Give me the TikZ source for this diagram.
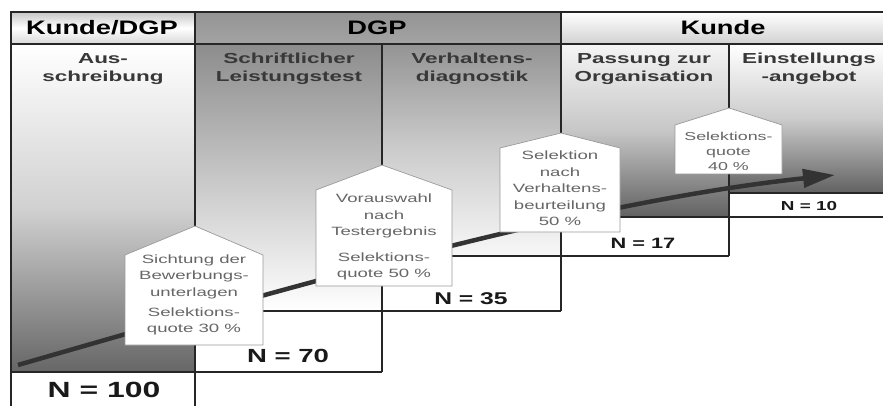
\documentclass[tikz,border=0pt]{standalone}
\usepackage{fontspec}
\setmainfont{Liberation Sans}
\newfontfamily\hdrfont[FakeStretch=1.4]{Liberation Sans}
\newfontfamily\subfont[FakeStretch=1.55]{Liberation Sans}
\newfontfamily\boxfont[FakeStretch=1.55]{Liberation Sans}
\newfontfamily\nfont[FakeStretch=1.45]{Liberation Sans}
\usetikzlibrary{arrows.meta}
\pgfdeclarelayer{fg}
\pgfsetlayers{main,fg}
\begin{document}
\begin{tikzpicture}[x=1pt,y=-1pt,
  frame/.style={line width=1.7pt, draw=black!85},
  hdr/.style={font=\hdrfont\bfseries\fontsize{19.5}{22}\selectfont, text=black, anchor=base, inner sep=0pt},
  sub/.style={font=\subfont\bfseries\fontsize{14.5}{18}\selectfont, text=black!78, align=center, anchor=north, inner sep=0pt},
  btext/.style={font=\boxfont\fontsize{12}{16.5}\selectfont, text=black!60, align=center, anchor=north, inner sep=0pt},
  nlab/.style={font=\nfont\bfseries, text=black!90, inner sep=0pt},
  house/.style={fill=white, draw=black!40, line width=0.7pt},
  flow/.style={line width=4.5pt, draw=black!80, -{Triangle[length=32pt,width=18pt]}}
]
\useasboundingbox (0,0) rectangle (883,406);
\clip (0,0) rectangle (883,406);
\fill[white] (0,0) rectangle (883,406);

% header cells
\shade[top color=black!22, bottom color=black!15, middle color=white] (11,12) rectangle (195,44);
\shade[top color=black!42, bottom color=black!36] (195,12) rectangle (561,44);
\shade[top color=white, bottom color=black!18] (561,12) rectangle (883,44);

% column bodies
\shade[top color=white, bottom color=black!60, middle color=black!18] (11,44) rectangle (195,372);
\shade[top color=black!45, bottom color=white, middle color=black!22] (195,44) rectangle (382,311);
\shade[top color=black!42, bottom color=black!3, middle color=black!20] (382,44) rectangle (561,256);
\shade[top color=black!4, bottom color=black!62, middle color=black!22] (561,44) rectangle (729,217);
\shade[top color=white, bottom color=black!62, middle color=black!20] (729,44) rectangle (883,193);

% frame lines
\draw[frame] (11,406) -- (11,12) -- (883,12);
\draw[frame] (11,44) -- (883,44);
\draw[frame] (195,12) -- (195,406);
\draw[frame] (561,12) -- (561,311);
\draw[frame] (382,44) -- (382,372);
\draw[frame] (729,44) -- (729,256);
\draw[frame] (11,372) -- (382,372);
\draw[frame] (195,311) -- (561,311);
\draw[frame] (382,256) -- (729,256);
\draw[frame] (561,217) -- (883,217);
\draw[frame] (729,193) -- (883,193);

% headers
\node[hdr] (h1) at (102,35) {Kunde/DGP};
\node[hdr] (h2) at (377,35) {DGP};
\node[hdr] (h3) at (723,35) {Kunde};

% sub headers
\node[sub] (s1) at (103,53) {Aus-\\schreibung};
\node[sub] (s2) at (289,53) {Schriftlicher\\Leistungstest};
\node[sub] (s3) at (472,53) {Verhaltens-\\diagnostik};
\node[sub] (s4) at (644,53) {Passung zur\\Organisation};
\node[sub] (s5) at (809,53) {Einstellungs\\-angebot};

% N labels
\node[nlab, font=\nfont\bfseries\fontsize{22}{24}\selectfont] (n1) at (104,389.5) {N = 100};
\node[nlab, font=\nfont\bfseries\fontsize{19}{22}\selectfont] (n2) at (288,355.5) {N = 70};
\node[nlab, font=\nfont\bfseries\fontsize{17}{20}\selectfont] (n3) at (471,298.5) {N = 35};
\node[nlab, font=\nfont\bfseries\fontsize{15}{18}\selectfont] (n4) at (643,243.5) {N = 17};
\node[nlab, font=\nfont\bfseries\fontsize{13}{16}\selectfont] (n5) at (809,206) {N = 10};

% flow arrow
\coordinate (fs) at (18,365);
\coordinate (fe) at (835,175);
\draw[flow] (fs) .. controls (340,272) and (600,200) .. (fe);

% houses
\draw[house] (125,345) -- (125,255) -- (195,226) -- (263,255) -- (263,345) -- cycle;
\draw[house] (316,286) -- (316,190) -- (382,165) -- (452,190) -- (452,286) -- cycle;
\draw[house] (500,232) -- (500,148) -- (561,133) -- (620,148) -- (620,232) -- cycle;
\draw[house] (675,174) -- (675,125) -- (729,108) -- (782,125) -- (782,174) -- cycle;

\begin{pgfonlayer}{fg}
\node[btext] (b1) at (194,254.5) {Sichtung der\\Bewerbungs-\\unterlagen\\[3.5pt]Selektions-\\quote 30 \%};
\node[btext] (b2) at (384,194) {Vorauswahl\\nach\\Testergebnis\\[9pt]Selektions-\\quote 50 \%};
\node[btext] (b3) at (560,151) {Selektion\\nach\\Verhaltens-\\beurteilung\\50 \%};
\node[btext, font=\boxfont\fontsize{11.5}{15}\selectfont] (b4) at (728.5,131.5) {Selektions-\\quote\\40 \%};
\end{pgfonlayer}
\end{tikzpicture}
\end{document}
